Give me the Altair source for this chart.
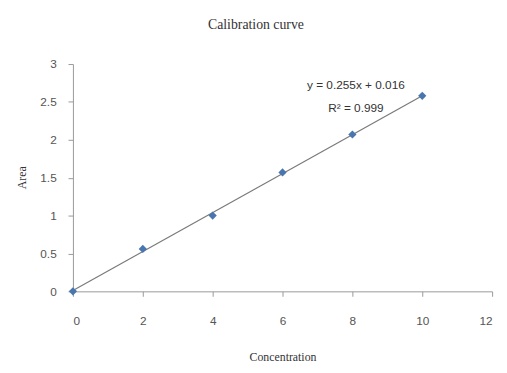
import altair as alt
import pandas as pd

concentration = [0, 2, 4, 6, 8, 10]
area = [0.0, 0.56, 1.0, 1.57, 2.07, 2.58]

eq_text = ["y = 0.255x + 0.016", "R² = 0.999"]
eq_x = [8.1, 8.1]
eq_y = [2.72, 2.42]
x_ticks = [0, 2, 4, 6, 8, 10, 12]
y_ticks = [0, 0.5, 1, 1.5, 2, 2.5, 3]

df = pd.DataFrame({"Concentration": concentration, "Area": area})
ann = pd.DataFrame({"t": eq_text, "x": eq_x, "y": eq_y})

xscale = alt.Scale(domain=[0, 12], nice=False)
yscale = alt.Scale(domain=[0, 3], nice=False)

xaxis = alt.Axis(values=x_ticks, grid=False, domainColor="#999999",
                 tickColor="#999999", tickSize=5, labelPadding=20, labelOverlap=False,
                 format="~g",
                 labelFont="Liberation Sans", labelFontSize=12, labelColor="#555555",
                 title="Concentration", titleFont="Liberation Serif", titleFontSize=12,
                 titleFontWeight="normal", titleColor="#333333", titleY=66,
                 titleBaseline="middle")
yaxis = alt.Axis(values=y_ticks, grid=False, domainColor="#999999",
                 tickColor="#999999", tickSize=5, labelPadding=12, labelOverlap=False,
                 format="~g",
                 labelFont="Liberation Sans", labelFontSize=12, labelColor="#555555",
                 title="Area", titleFont="Liberation Serif", titleFontSize=12,
                 titleFontWeight="normal", titleColor="#333333",
                 titleX=-52, titleY=115, titleAlign="center", titleBaseline="middle")

base = alt.Chart(df)

trend = base.transform_regression("Concentration", "Area").mark_line(
    color="#7a7a7a", strokeWidth=1.2
).encode(
    x=alt.X("Concentration:Q", scale=xscale, axis=xaxis),
    y=alt.Y("Area:Q", scale=yscale, axis=yaxis),
)

points = base.mark_point(shape="diamond", filled=True, color="#4a76b0", size=70, opacity=1).encode(
    x=alt.X("Concentration:Q", scale=xscale, axis=xaxis),
    y=alt.Y("Area:Q", scale=yscale, axis=yaxis),
)

text = alt.Chart(ann).mark_text(font="Liberation Sans", fontSize=12, color="#333333",
                                align="center", baseline="middle").encode(
    x=alt.X("x:Q", scale=xscale, axis=xaxis),
    y=alt.Y("y:Q", scale=yscale, axis=yaxis),
    text="t:N"
)

chart = alt.layer(trend, points, text).properties(
    width=426, height=231,
    title=alt.TitleParams("Calibration curve", font="Liberation Serif", fontSize=14,
                          fontWeight="normal", color="#333333", anchor="middle", dx=-27, offset=27),
    autosize=alt.AutoSizeParams(type="none"),
    padding={"left": 66, "top": 54, "right": 7, "bottom": 78},
).configure_view(stroke=None)

chart.save("out.html", embed_options={"renderer": "svg", "actions": False})
